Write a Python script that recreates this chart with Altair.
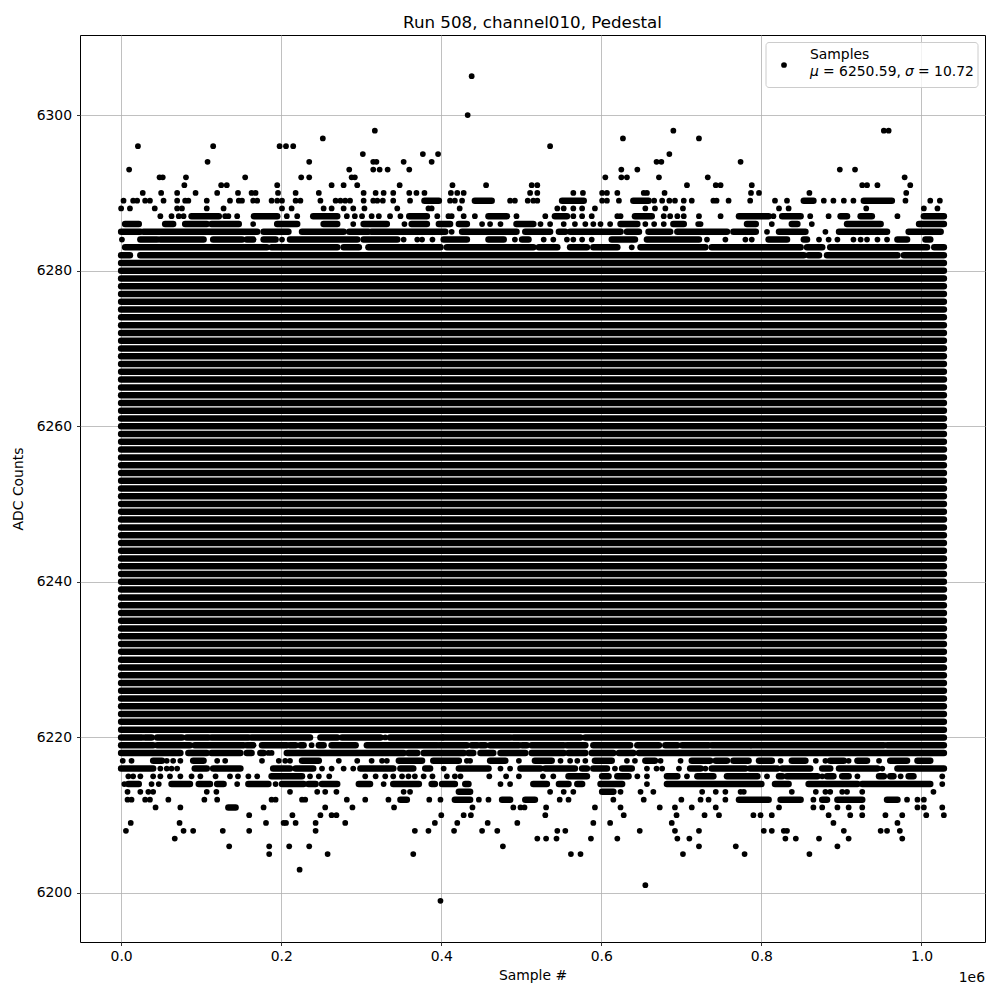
import altair as alt
import pandas as pd

# ---------------- data (x in thousands of samples, y in ADC counts) ----------------
X_MAX = 1028            # last sample index (thousands)
full_levels = list(range(6221, 6282))   # ADC codes filled across the whole run

# upper tail: single samples (number) or runs of adjacent samples (start, end)
upper_rows = {
    6305: [438],
    6300: [433],
    6298: [317, 690, 953, 959],
    6297: [252, 627, 722],
    6296: [21, 115, 198, 206, 215, 536],
    6295: [302, 377, 396, 685],
    6294: [108, 235, 315, 319, 353, 388, 669, 675, 774],
    6293: [10, 285, 315, 323, 333, 360, 625, 645, 898, 917],
    6292: [48, 52, 81, 155, 225, 235, 288, 292, 605, 625, 632, 672, 733, 979],
    6291: [79, 125, 132, 195, 263, 278, 295, 348, 414, 456, 513, 520, 707, 743, 749,
           788, 926, 932, 945, 986],
    6290: [27, 50, 70, 93, 120, 146, 163, 168, 196, 218, 247, 303, 318, 328, 340, 360,
           369, 379, 412, 420, 428, 511, 520, 565, 577, 601, 607, 620, 653, 657, 679,
           787, 797, 860, 981],
    6289: [3, 15, 20, 30, 36, 53, 70, 80, 84, 107, 136, 147, 151, 165, 170, 188, 195,
           201, 218, 224, 249, 268, 274, 280, 286, 303, 315, 320, 327, 340, 361,
           (379, 397), 411, 417, 426, (442, 463), 486, 492, 508, 515, 520, (551, 578),
           601, 607, 622, (640, 659), 666, 676, 685, 692, 703, 713, 740, 744, 759, 786,
           817, 832, (853, 865), 878, 890, 903, 915, (928, 963), 980, 1011, 1023],
    6288: [0, 11, 42, 70, 76, 107, 128, 201, 213, 253, 263, 278, 290, 304, 345, 384,
           388, 423, 545, 553, 565, 576, 592, 655, 667, 680, 702, 822, 834, 931, 1003,
           1020],
    6287: [49, 63, 72, 78, (88, 122), 130, 134, 145, (166, 195), 207, 220, (240, 270),
           282, 292, 301, 313, 322, 336, 349, (360, 382), 395, 409, 413, 428, 442,
           (459, 482), 494, 530, (542, 557), 565, 576, 588, 620, 624, (642, 663), 678,
           686, 695, 703, 722, 749, (772, 809), 815, (826, 849), 861, 884, (899, 907),
           (924, 938), 970, (1003, 1028)],
    6286: [(5, 22), (55, 65), (80, 107), (113, 147), 165, (195, 220), (253, 270), 290,
           (303, 332), 354, (363, 382), (397, 411), (422, 432), 451, 461, 474,
           (494, 515), 524, 536, 553, 567, 580, 590, 599, 611, (624, 645), 655, 666,
           678, (690, 703), 721, 724, (782, 793), 813, (838, 845), 863, (907, 949),
           (997, 1028)],
    6285: [(0, 24), (28, 170), (178, 209), (226, 278), (285, 309), (313, 405), 413,
           (426, 494), (505, 536), (547, 555), (561, 624), (632, 647), (659, 686),
           (695, 757), (765, 793), 807, (822, 855), 880, (897, 957), (984, 1024)],
    6284: [1, (24, 45), (49, 103), (115, 151), (157, 165), (178, 193), 201, (211, 295),
           (303, 345), 353, 370, 376, 389, (403, 432), (459, 478), 492, (501, 509), 528,
           540, 557, 565, 576, 588, (613, 642), (657, 722), 732, 755, 780, 788,
           (809, 832), (853, 857), 872, 884, 895, 915, 924, 932, 945, 957, (970, 982),
           (1005, 1011)],
    6283: [(5, 182), (188, 270), (278, 297), (309, 399), (407, 515), (522, 545),
           (561, 582), (590, 620), 638, (649, 730), (738, 849), (857, 876), (886, 1007),
           (1016, 1028)],
    6282: [(0, 11), (24, 853), (859, 872), (882, 970), (978, 1028)],
}

# lower tail
lower_rows = {
    6220: [(0, 26), (30, 38), (45, 76), (82, 109), (113, 159), (163, 236), (249, 270),
           (276, 324), 330, (336, 401), (403, 486), (490, 574), (580, 1028)],
    6219: [(0, 40), (45, 86), (92, 153), (157, 165), (176, 207), (211, 218), (224, 228),
           238, (247, 253), (263, 293), (307, 395), (398, 432), (438, 445), (449, 455),
           (461, 497), (501, 507), (513, 553), (557, 580), (590, 636), (645, 672),
           (680, 695), (701, 734), (738, 786), (788, 953), (957, 1028)],
    6218: [(0, 74), (84, 107), (113, 149), (157, 163), (174, 178), 184, 188, (207, 353),
           (359, 370), (378, 428), (434, 440), (449, 465), (474, 505), (513, 553),
           (559, 580), (588, 615), (622, 640), (647, 1028)],
    6217: [2, 13, (40, 51), 57, 65, 74, (90, 103), 120, 130, 176, 197, 205, 211,
           (226, 247), 272, 295, 313, 326, 332, (347, 376), (390, 422), 432, 436,
           (461, 480), 497, (517, 538), 549, 561, 570, 580, (592, 613), 632, 642,
           (655, 667), 674, 699, (713, 736), (743, 757), (765, 784), (797, 813), 824,
           (838, 855), 868, 880, (886, 903), 909, (920, 932), 947, (961, 982),
           (995, 1011)],
    6216: [(0, 40), 49, 57, 63, 70, (92, 107), (115, 149), (190, 211), (218, 240), 251,
           263, 278, 290, (299, 340), (349, 365), (380, 386), 403, (422, 459), 474, 486,
           (499, 524), (530, 567), (576, 582), (590, 607), 617, (626, 638), 657, 669,
           676, 697, (711, 724), 730, (738, 780), (786, 820), (826, 861), (876, 886),
           (897, 945), 951, (970, 1028)],
    6215: [9, 15, 24, 40, 49, 61, 74, 88, 99, 118, 136, 146, 159, 170, (188, 226), 236,
           247, 260, 305, 318, 330, 340, 351, 359, 367, 378, 389, 407, 417, 424, 460,
           481, 497, 527, 540, (559, 582), (601, 609), (620, 634), 645, 657, (682, 695),
           707, (720, 740), (757, 795), 807, (822, 826), (832, 870), 876, (882, 890),
           (901, 909), 920, (947, 953), (961, 965), 974, (984, 990), 1026],
    6214: [4, (9, 22), 38, 47, (63, 86), (97, 111), (120, 128), 145, (159, 184), 193,
           (201, 228), (234, 243), (251, 270), (297, 311), 328, (340, 372), (388, 392),
           (401, 417), (430, 434), 474, 486, (515, 532), (547, 559), (570, 576),
           (599, 626), 657, (682, 800), (817, 834), (859, 920), (926, 1011), 1026],
    6213: [8, 24, 34, 40, 107, 119, 211, 245, 255, 269, 353, 361, (422, 436), 536, 553,
           565, (601, 615), 624, 649, 665, 726, 743, 755, 774, 778, 838, 868, 880, 886,
           901, 907, 926, 1015],
    6212: [8, 13, 30, 36, 59, 104, 120, 188, 193, 226, 230, 282, 305, 334, (349, 357),
           385, 399, (417, 436), 447, 459, (476, 486), (505, 517), 548, 559, 615, 653,
           700, 724, 734, 755, (772, 809), (824, 849), 865, (876, 882), (895, 926),
           (957, 970), 982, 995, 1003],
    6211: [43, 74, (134, 143), 178, 255, 289, 341, 439, 490, 499, 504, 531, 592, 624,
           673, 692, 713, 743, 822, 865, 876, 895, 909, 926, 995, 1003, 1026],
    6210: [160, 214, 249, 263, 269, 400, 428, 437, 530, 628, 694, 729, 747, 790, 799,
           813, 884, 911, 926, 955, 976, 1006, 1028],
    6209: [12, 73, 181, 203, 206, 218, 243, 280, 392, 420, 458, 495, 590, 611, 688, 890,
           970],
    6208: [6, 78, 90, 127, 160, 243, 367, 384, 416, 451, 470, 545, 555, 648, 692, 722,
           803, 813, 828, 832, 903, 949, 957, 973],
    6207: [67, 520, 531, 544, 587, 620, 695, 710, 830, 843, 872, 909, 976],
    6206: [135, 185, 210, 235, 477, 722, 768, 895],
    6205: [185, 258, 365, 562, 574, 702, 779, 860],
    6203: [223],
    6201: [655],
    6199: [399],
}

x_ticks = [0, 200, 400, 600, 800, 1000]
y_ticks = [6200, 6220, 6240, 6260, 6280, 6300]
title_text = "Run 508, channel010, Pedestal"
legend_label = "Samples"
mu_text = "= 6250.59,"
sigma_text = "= 10.72"

# ---------------- build table ----------------
records = []
for lvl in full_levels:
    records.append({"level": lvl, "start": 0, "end": X_MAX})
for rows in (upper_rows, lower_rows):
    for lvl, items in rows.items():
        for it in items:
            if isinstance(it, tuple):
                s, e = it
            else:
                s = e = it
            records.append({"level": lvl, "start": s, "end": e})
df = pd.DataFrame(records)
runs = df[df["end"] > df["start"]]
singles = df[df["end"] == df["start"]]

W, H = 905, 907
FONT = "DejaVu Sans"
FS = 13.9
DOT_W = 6.5
DOT_AREA = 33

xscale = alt.Scale(domain=[-51.4, 1079.4], nice=False, zero=False)
yscale = alt.Scale(domain=[6193.7, 6310.3], nice=False, zero=False)

xaxis = alt.Axis(values=x_ticks, labelExpr="format(datum.value / 1000, '.1f')",
                 title="Sample #", grid=True, titlePadding=6)
yaxis = alt.Axis(values=y_ticks, format="d", title="ADC Counts", grid=True,
                 labelPadding=5, titlePadding=11)

rules = alt.Chart(runs).mark_rule(strokeWidth=DOT_W, strokeCap="round", color="black").encode(
    x=alt.X("start:Q", scale=xscale, axis=xaxis),
    x2="end:Q",
    y=alt.Y("level:Q", scale=yscale, axis=yaxis),
)
dots = alt.Chart(singles).mark_circle(size=DOT_AREA, color="black", opacity=1).encode(
    x=alt.X("start:Q", scale=xscale),
    y=alt.Y("level:Q", scale=yscale),
)

one = pd.DataFrame({"t": [""]})
offset_txt = alt.Chart(pd.DataFrame({"t": ["1e6"]})).mark_text(
    align="right", baseline="middle", fontSize=FS, font=FONT, color="black"
).encode(x=alt.value(W), y=alt.value(H + 36), text="t:N")

legend_box = alt.Chart(one).mark_rect(
    fill="white", fillOpacity=0.8, stroke="#cccccc", strokeWidth=1, cornerRadius=3
).encode(x=alt.value(686), x2=alt.value(898), y=alt.value(7.5), y2=alt.value(52.5))
legend_dot = alt.Chart(one).mark_circle(size=DOT_AREA, color="black", opacity=1).encode(
    x=alt.value(704), y=alt.value(30))
leg1 = alt.Chart(pd.DataFrame({"t": [legend_label]})).mark_text(
    align="left", baseline="middle", fontSize=FS, font=FONT, color="black"
).encode(x=alt.value(730), y=alt.value(19.5), text="t:N")
leg_mu = alt.Chart(pd.DataFrame({"t": ["μ"]})).mark_text(
    align="left", baseline="middle", fontSize=FS, font=FONT, fontStyle="italic", color="black"
).encode(x=alt.value(730), y=alt.value(37), text="t:N")
leg2 = alt.Chart(pd.DataFrame({"t": [mu_text]})).mark_text(
    align="left", baseline="middle", fontSize=FS, font=FONT, color="black"
).encode(x=alt.value(743), y=alt.value(37), text="t:N")
leg_sigma = alt.Chart(pd.DataFrame({"t": ["σ"]})).mark_text(
    align="left", baseline="middle", fontSize=FS, font=FONT, fontStyle="italic", color="black"
).encode(x=alt.value(825), y=alt.value(37), text="t:N")
leg3 = alt.Chart(pd.DataFrame({"t": [sigma_text]})).mark_text(
    align="left", baseline="middle", fontSize=FS, font=FONT, color="black"
).encode(x=alt.value(838), y=alt.value(37), text="t:N")

chart = alt.layer(
    rules, dots, offset_txt, legend_box, legend_dot, leg1, leg_mu, leg2, leg_sigma, leg3
).properties(
    width=W, height=H,
    title=alt.TitleParams(title_text, fontSize=16.7, fontWeight="normal", font=FONT,
                          color="black", offset=3, anchor="middle"),
    autosize=alt.AutoSizeParams(type="none"),
    padding={"left": 72, "top": 27, "right": 7, "bottom": 50},
).configure(font=FONT).configure_view(
    stroke="black", strokeWidth=1
).configure_axis(
    domain=False, gridColor="#b0b0b0", gridWidth=0.8, gridOpacity=1,
    tickColor="black", tickWidth=0.8, tickSize=3.5,
    labelFont=FONT, labelFontSize=FS, labelColor="black", labelPadding=3.5,
    titleFont=FONT, titleFontSize=FS, titleFontWeight="normal", titleColor="black",
)

chart.save("out.html", embed_options={"renderer": "svg", "actions": False})
